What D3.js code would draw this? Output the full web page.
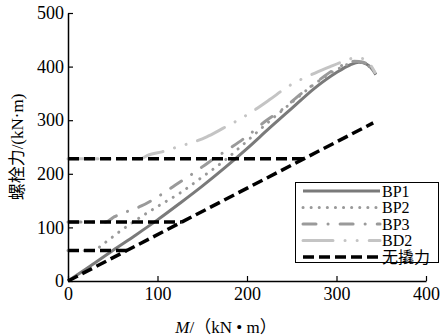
<!DOCTYPE html>
<html>
<head>
<meta charset="utf-8">
<script src="https://cdn.jsdelivr.net/npm/d3@7"></script>
<style>
  body { margin: 0; background: #fff; }
  svg { display: block; }
  text { font-family: "Liberation Serif", "Noto Sans CJK SC", serif; fill: #000; }
</style>
</head>
<body>
<svg></svg>
<script>
const width = 443;
const height = 336;

// bolt force curves, [M, force]
const bp1 = [[0,0],[25,28],[50,57],[75,85],[100,114],[125,145],[150,177],[175,211],[200,247],[225,285],[250,322],[275,359],[300,389],[315,403],[325,408],[333,405],[340,395],[344,385]];
const bp2 = [[0,57],[28,57],[40,70],[60,95],[80,118],[100,139],[125,164],[150,194],[175,225],[200,261],[225,298],[250,333],[275,367],[300,394],[315,406],[322,410],[330,407],[338,398]];
const bp3 = [[0,110],[42,110],[52,120],[65,129],[82,140],[103,160],[120,179],[140,201],[160,225],[183,250],[200,270],[222,300],[237,317],[261,350],[276,369],[295,392],[310,405],[320,410],[330,408],[340,396]];
const bd2 = [[0,228],[80,228],[90,235],[105,241],[122,250],[138,258],[155,269],[170,282],[203,313],[225,338],[246,363],[276,388],[293,400],[310,411],[322,417],[332,413],[338,403],[343,389]];

// no-prying reference: diagonal plus preload levels
const noPrySlope = [[0,0],[341,295]];
const preloads = [57, 110, 228];

const series = [
  {name: "BP1", data: bp1, color: "#7a7a7a", w: 3, dash: null, cap: "butt"},
  {name: "BP2", data: bp2, color: "#999", w: 3, dash: "0.1,8", cap: "round"},
  {name: "BP3", data: bp3, color: "#9a9a9a", w: 3, dash: "13,12,0.1,12", cap: "round"},
  {name: "BD2", data: bd2, color: "#c4c4c4", w: 3, dash: "30,12,0.1,12,0.1,12", cap: "round"}
];
const noPry = {name: "无撬力", color: "#000", w: 3.5, dash: "11,5"};

const xTicks = [0, 100, 200, 300, 400];
const yTicks = [0, 100, 200, 300, 400, 500];

const svg = d3.select("svg")
  .attr("width", width)
  .attr("height", height);

const x = d3.scaleLinear().domain([0, 400]).range([68, 426]);
const y = d3.scaleLinear().domain([0, 500]).range([281, 13]);

const line = d3.line()
  .x(d => x(d[0]))
  .y(d => y(d[1]))
  .curve(d3.curveMonotoneX);

const plot = svg.append("g");

series.forEach(s => {
  plot.append("path")
    .attr("d", line(s.data))
    .attr("fill", "none")
    .attr("stroke", s.color)
    .attr("stroke-width", s.w)
    .attr("stroke-dasharray", s.dash)
    .attr("stroke-linecap", s.cap);
});

const k = noPrySlope[1][1] / noPrySlope[1][0];
const noPryLines = [noPrySlope].concat(preloads.map(p => [[0, p], [p / k, p]]));

noPryLines.forEach(d => {
  plot.append("path")
    .attr("d", d3.line().x(p => x(p[0])).y(p => y(p[1]))(d))
    .attr("fill", "none")
    .attr("stroke", noPry.color)
    .attr("stroke-width", noPry.w)
    .attr("stroke-dasharray", noPry.dash);
});

// axes
const xAxis = svg.append("g")
  .attr("transform", `translate(0,${y(0)})`)
  .call(d3.axisBottom(x).tickValues(xTicks).tickSizeInner(-5).tickSizeOuter(0).tickPadding(6));

const yAxis = svg.append("g")
  .attr("transform", `translate(${x(0)},0)`)
  .call(d3.axisLeft(y).tickValues(yTicks).tickSizeInner(-5).tickSizeOuter(0).tickPadding(4));

[xAxis, yAxis].forEach(a => {
  a.attr("font-family", null).attr("font-size", null);
  a.select(".domain").attr("stroke", "#000").attr("stroke-width", 1.5);
  a.selectAll(".tick line").attr("stroke", "#000").attr("stroke-width", 1.2);
  a.selectAll(".tick text")
    .style("font-family", "'Liberation Serif', serif")
    .style("font-size", "18px")
    .attr("fill", "#000");
});

// axis titles
svg.append("text")
  .attr("x", 226)
  .attr("y", 333)
  .attr("text-anchor", "middle")
  .style("font-size", "17px")
  .html('<tspan font-style="italic">M</tspan>/（kN • m）');

svg.append("text")
  .attr("transform", "translate(23,147) rotate(-90)")
  .attr("text-anchor", "middle")
  .style("font-size", "17px")
  .text("螺栓力/(kN·m)");

// legend
const legend = svg.append("g");

legend.append("rect")
  .attr("x", 295.5)
  .attr("y", 182.5)
  .attr("width", 143)
  .attr("height", 80)
  .attr("fill", "#fff")
  .attr("stroke", "#000")
  .attr("stroke-width", 1);

const legendItems = series.concat([noPry]);

const item = legend.selectAll(".legend-item")
  .data(legendItems)
  .join("g")
  .attr("transform", (d, i) => `translate(0, ${191 + i * 16.5})`);

item.append("line")
  .attr("x1", 303)
  .attr("x2", 380)
  .attr("stroke", d => d.color)
  .attr("stroke-width", d => d.w)
  .attr("stroke-dasharray", d => d.dash)
  .attr("stroke-linecap", d => d.cap || "butt");

item.append("text")
  .attr("x", 382)
  .attr("y", 5.5)
  .style("font-size", "16px")
  .text(d => d.name);
</script>
</body>
</html>
